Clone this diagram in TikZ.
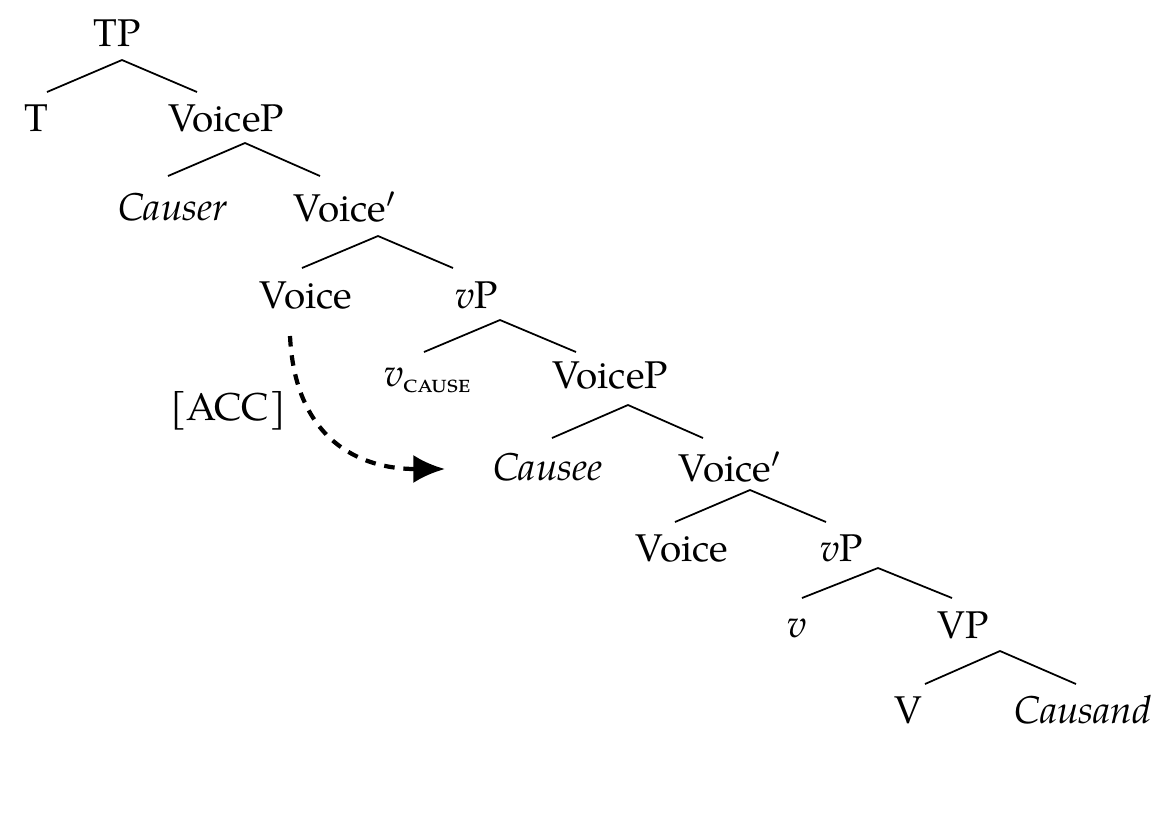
\documentclass[tikz,border=0pt]{standalone}
\usepackage{fontspec}
\setmainfont{TeX Gyre Pagella}[Scale=1.0]
\usetikzlibrary{arrows.meta}
\tikzset{cat/.style={font=\fontsize{11}{13}\selectfont, inner sep=1pt},
  branch/.style={line width=0.5pt}}
\begin{document}
\begin{tikzpicture}[x=0.01cm,y=-0.01cm]
\useasboundingbox (0,0) rectangle (1162,823);
% labels
\node[cat] (tp) at (117,33) {TP};
\node[cat] (t) at (36,118) {T};
\node[cat] (voicep1) at (226,118) {VoiceP};
\node[cat] (causer) at (173,207) {\textit{Causer}};
\node[cat] (voicebar1) at (345,207) {Voice$'$};
\node[cat] (voice1) at (306,295) {Voice};
\node[cat] (vp1) at (477,295) {\textit{v}P};
\node[cat] (vcause) at (428,380) {\textit{v}\textsubscript{\textsc{cause}}};
\node[cat] (voicep2) at (610,375) {VoiceP};
\node[cat] (causee) at (548,467) {\textit{Causee}};
\node[cat] (voicebar2) at (730,467) {Voice$'$};
\node[cat] (voice2) at (682,548) {Voice};
\node[cat] (vp2) at (842,548) {\textit{v}P};
\node[cat] (v) at (797,628) {\textit{v}};
\node[cat] (vp3) at (963,625) {VP};
\node[cat] (verb) at (908,710) {V};
\node[cat] (causand) at (1083,710) {\textit{Causand}};
% branches
\foreach \ax/\ay/\lx/\ly/\rx/\ry/\n in {122/60/47/92/197/92/a, 245/143/168/176/320/176/b,
  378/236/302/268/453/268/c, 500/320/424/352/576/352/d, 628/405/552/438/703/438/e,
  750/490/675/522/826/522/f, 878/568/802/598/952/598/g, 1000/651/925/684/1076/684/h}{
  \coordinate (top\n) at (\ax,\ay);
  \coordinate (left\n) at (\lx,\ly);
  \coordinate (right\n) at (\rx,\ry);
  \draw[branch] (left\n) -- (top\n) -- (right\n);
}
% case arrow
\coordinate (accstart) at (290,336);
\coordinate (accend) at (445,469);
\draw[line width=1.2pt, dash pattern=on 3pt off 2.5pt, -{Latex[length=9pt,width=8pt]}]
  (accstart) .. controls (295,440) and (360,469) .. (accend);
\node[cat] (acc) at (228,411) {[ACC]};
\end{tikzpicture}
\end{document}
